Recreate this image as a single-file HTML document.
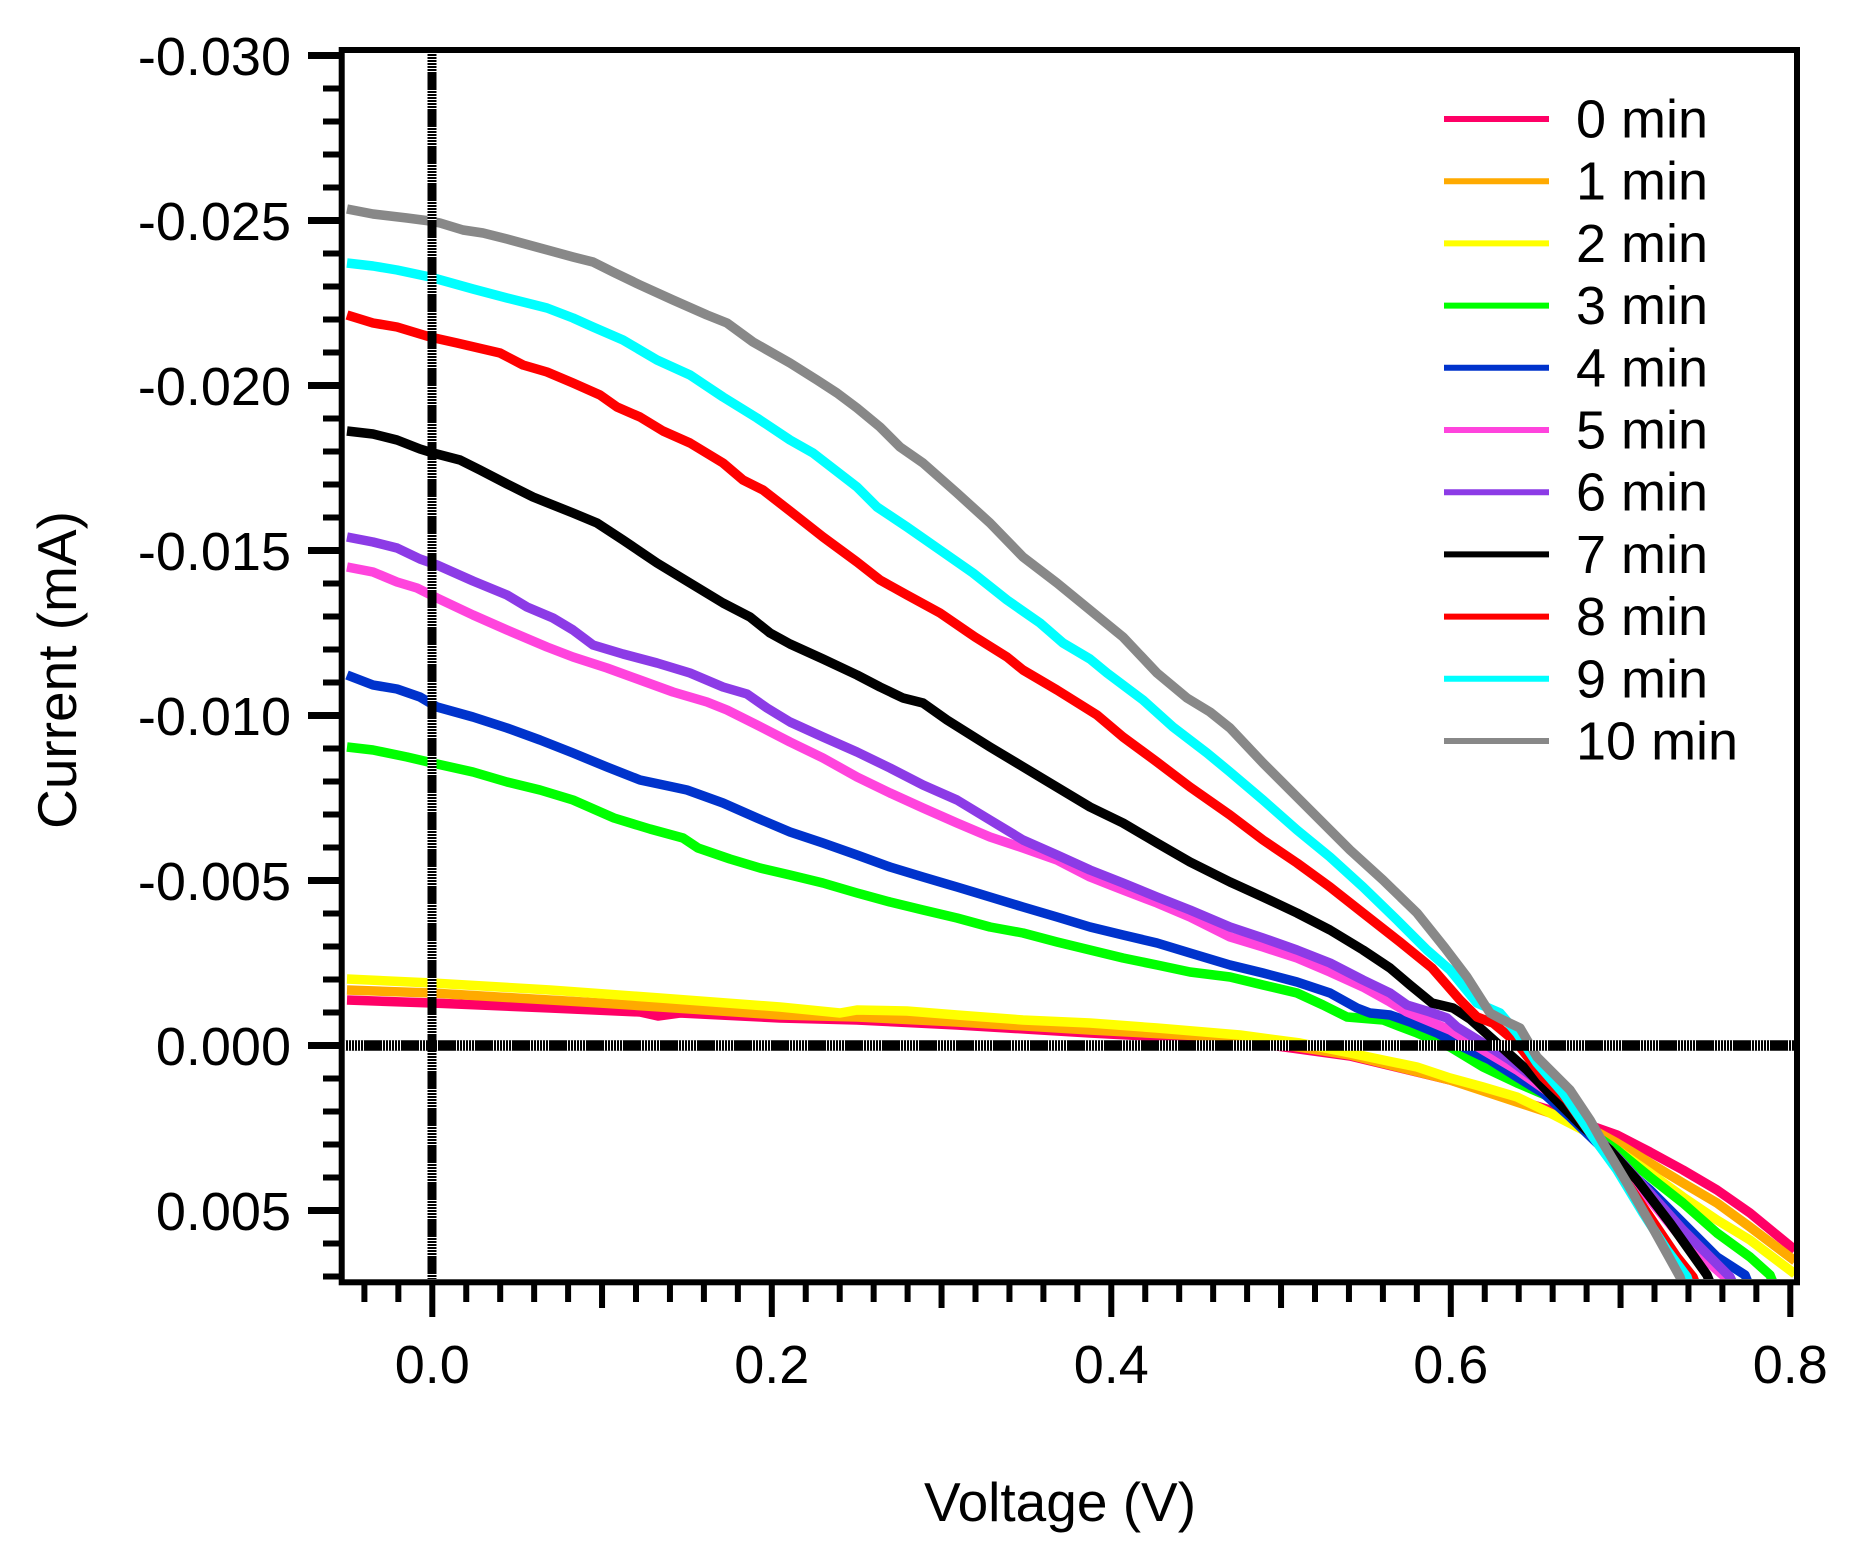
<!DOCTYPE html>
<html><head><meta charset="utf-8"><style>html,body{margin:0;padding:0;background:#fff}svg{display:block}text{font-family:"Liberation Sans",Arial,sans-serif;fill:#000}</style></head><body>
<svg xmlns="http://www.w3.org/2000/svg" width="1853" height="1549" viewBox="0 0 1853 1549">
<rect width="1853" height="1549" fill="#fff"/>
<defs><clipPath id="c"><rect x="345" y="53" width="1449" height="1226"/></clipPath></defs>
<g clip-path="url(#c)" fill="none" stroke-width="9.5" stroke-linejoin="round" stroke-linecap="butt">
<polyline stroke="#ff0066" points="347,1000 432,1003 550,1008 640,1012 658,1016 680,1013 780,1018 857,1020 957,1025 1090,1033 1240,1041 1350,1056 1450,1080 1550,1110 1583,1123 1617,1135 1650,1152 1683,1170 1717,1190 1750,1213 1795,1250"/>
<polyline stroke="#ffaa00" points="347,990 432,993 600,1003 780,1015 857,1017 957,1022 1090,1030 1240,1038 1350,1055 1450,1080 1550,1113 1597,1132 1617,1143 1650,1163 1683,1183 1717,1203 1750,1227 1795,1261"/>
<polyline stroke="#ffff00" points="347,979 432,983 550,990 660,998 780,1007 840,1013 857,1010 907,1011 957,1015 1023,1020 1090,1023 1157,1028 1240,1035 1300,1043 1350,1053 1383,1060 1417,1067 1450,1078 1483,1087 1517,1097 1550,1113 1583,1130 1617,1150 1650,1173 1683,1197 1717,1220 1750,1240 1795,1274"/>
<polyline stroke="#00ff00" points="347,747 373,750 407,757 437,764 473,772 507,782 540,790 573,800 614,818 650,829 683,838 698,848 730,859 760,868 790,875 823,883 857,893 890,902 923,910 957,918 990,927 1023,933 1057,942 1090,950 1123,958 1157,965 1190,972 1230,977 1263,985 1297,993 1323,1005 1347,1017 1383,1020 1417,1033 1450,1047 1483,1067 1517,1083 1550,1097 1583,1127 1617,1150 1650,1177 1683,1203 1717,1233 1750,1257 1770,1275 1776,1290"/>
<polyline stroke="#0033cc" points="347,675 373,685 397,689 420,697 437,707 473,717 507,728 540,740 573,753 607,767 640,780 673,787 687,790 723,803 757,818 790,832 823,843 857,855 890,867 923,877 957,887 990,897 1023,907 1057,917 1090,927 1123,935 1157,943 1190,953 1230,965 1263,973 1297,982 1330,993 1357,1008 1370,1013 1390,1015 1410,1022 1437,1033 1463,1047 1490,1060 1517,1077 1543,1093 1570,1117 1597,1143 1623,1167 1650,1190 1683,1223 1717,1257 1745,1275 1751,1290"/>
<polyline stroke="#ff44dd" points="347,567 373,572 397,582 417,588 437,598 473,615 507,630 547,647 573,657 607,668 640,680 673,692 707,702 727,710 757,725 790,742 823,758 857,777 890,793 923,808 957,823 990,837 1023,848 1057,860 1090,877 1123,890 1157,903 1190,917 1230,937 1263,947 1297,958 1330,972 1363,987 1390,1002 1407,1012 1450,1030 1483,1050 1517,1070 1550,1093 1583,1123 1617,1160 1650,1200 1683,1240 1725,1277 1731,1290"/>
<polyline stroke="#8c3be6" points="347,537 373,542 397,548 420,559 437,565 473,581 507,595 527,607 553,618 573,630 593,645 623,654 657,663 690,673 723,687 747,694 767,708 790,722 823,737 857,752 890,768 923,785 957,800 990,820 1023,840 1057,855 1090,870 1123,883 1157,897 1190,910 1230,927 1263,938 1297,950 1330,963 1363,980 1390,993 1407,1005 1430,1012 1447,1018 1457,1027 1483,1043 1510,1060 1537,1080 1563,1100 1587,1127 1617,1157 1650,1193 1683,1230 1730,1277 1736,1290"/>
<polyline stroke="#000000" points="347,431 373,434 397,440 420,449 433,453 460,460 480,470 507,484 533,497 573,513 597,523 623,540 657,563 690,583 723,603 750,617 770,633 790,644 823,659 857,675 880,687 903,698 923,703 947,720 990,747 1040,777 1090,807 1123,823 1157,843 1190,862 1230,882 1263,897 1297,913 1330,930 1363,950 1390,968 1410,985 1432,1003 1453,1008 1470,1019 1497,1043 1527,1070 1553,1097 1583,1127 1610,1150 1637,1180 1670,1223 1707,1275 1713,1290"/>
<polyline stroke="#ff0000" points="347,315 373,323 397,327 430,337 457,343 500,353 523,365 547,372 573,383 600,395 617,407 640,417 663,431 690,443 723,463 743,480 763,490 790,511 823,537 857,562 880,580 907,595 940,613 975,637 1007,657 1023,670 1057,690 1097,715 1123,737 1157,762 1190,787 1230,815 1263,840 1297,863 1330,887 1363,913 1400,942 1432,968 1460,1000 1477,1017 1493,1023 1517,1043 1543,1077 1567,1100 1593,1137 1623,1177 1650,1217 1677,1257 1693,1277 1698,1290"/>
<polyline stroke="#00ffff" points="347,263 373,266 397,270 430,277 473,289 507,298 547,308 573,318 593,327 623,340 657,360 690,375 723,397 757,418 790,440 813,453 857,487 877,507 907,527 940,550 973,573 1007,600 1040,623 1063,643 1090,659 1107,673 1143,700 1173,727 1207,753 1230,772 1263,800 1297,830 1330,857 1363,887 1397,920 1427,950 1450,970 1477,1003 1500,1013 1517,1033 1537,1063 1563,1093 1593,1137 1617,1170 1643,1213 1667,1250 1687,1277 1691,1290"/>
<polyline stroke="#888888" points="347,209 373,214 407,218 430,221 440,223 463,230 483,233 507,239 540,248 573,257 593,262 613,272 640,285 673,300 707,315 727,323 753,342 790,363 817,380 837,393 857,408 880,427 900,447 923,463 957,493 990,523 1023,557 1057,583 1090,610 1123,637 1157,673 1187,698 1210,712 1230,728 1263,763 1297,797 1330,830 1350,850 1383,880 1417,913 1445,948 1467,977 1490,1013 1503,1020 1520,1028 1537,1057 1557,1077 1570,1090 1590,1120 1603,1143 1627,1183 1650,1223 1680,1277 1684,1290"/>
</g>
<!-- zero lines -->
<g fill="none">
<line x1="345" y1="1045.5" x2="1794" y2="1045.5" stroke="#000" stroke-width="10.5"/>
<line x1="345" y1="1045.5" x2="1794" y2="1045.5" stroke="#fff" stroke-width="10.5" stroke-dasharray="1 2 1 2 1 2 1 2 1 2 1 2 1 18"/>
<line x1="432" y1="53" x2="432" y2="1279" stroke="#000" stroke-width="9"/>
<line x1="432" y1="53" x2="432" y2="1279" stroke="#fff" stroke-width="9" stroke-dasharray="1 2 1 2 1 2 1 2 1 2 1 2 1 18"/>
</g>
<!-- frame -->
<rect x="341.7" y="50" width="1455.3" height="1232.3" fill="none" stroke="#000" stroke-width="6"/>
<!-- y ticks -->
<path stroke="#000" stroke-width="7" fill="none" d="M308 55.5H342M308 220.5H342M308 385.5H342M308 550.5H342M308 715.5H342M308 880.5H342M308 1045.5H342M308 1210.5H342"/>
<path stroke="#000" stroke-width="6" fill="none" d="M323 88.5H342M323 121.5H342M323 154.5H342M323 187.5H342M323 253.5H342M323 286.5H342M323 319.5H342M323 352.5H342M323 418.5H342M323 451.5H342M323 484.5H342M323 517.5H342M323 583.5H342M323 616.5H342M323 649.5H342M323 682.5H342M323 748.5H342M323 781.5H342M323 814.5H342M323 847.5H342M323 913.5H342M323 946.5H342M323 979.5H342M323 1012.5H342M323 1078.5H342M323 1111.5H342M323 1144.5H342M323 1177.5H342M323 1243.5H342M323 1276.5H342"/>
<!-- x ticks -->
<path stroke="#000" stroke-width="6" fill="none" d="M432.3 1282V1317M771.8 1282V1317M1111.3 1282V1317M1450.8 1282V1317M1790.3 1282V1317"/>
<path stroke="#000" stroke-width="6" fill="none" d="M602.05 1282V1308M941.55 1282V1308M1281.05 1282V1308M1620.55 1282V1308"/>
<path stroke="#000" stroke-width="6" fill="none" d="M364.4 1282V1302M398.35 1282V1302M466.25 1282V1302M500.2 1282V1302M534.15 1282V1302M568.1 1282V1302M636 1282V1302M669.95 1282V1302M703.9 1282V1302M737.85 1282V1302M805.75 1282V1302M839.7 1282V1302M873.65 1282V1302M907.6 1282V1302M975.5 1282V1302M1009.45 1282V1302M1043.4 1282V1302M1077.35 1282V1302M1145.25 1282V1302M1179.2 1282V1302M1213.15 1282V1302M1247.1 1282V1302M1315 1282V1302M1348.95 1282V1302M1382.9 1282V1302M1416.85 1282V1302M1484.75 1282V1302M1518.7 1282V1302M1552.65 1282V1302M1586.6 1282V1302M1654.5 1282V1302M1688.45 1282V1302M1722.4 1282V1302M1756.35 1282V1302"/>
<!-- y labels -->
<g font-size="54" text-anchor="end">
<text x="291" y="75">-0.030</text>
<text x="291" y="240">-0.025</text>
<text x="291" y="405">-0.020</text>
<text x="291" y="570">-0.015</text>
<text x="291" y="735">-0.010</text>
<text x="291" y="900">-0.005</text>
<text x="291" y="1065">0.000</text>
<text x="291" y="1230">0.005</text>
</g>
<!-- x labels -->
<g font-size="54" text-anchor="middle">
<text x="432.3" y="1383">0.0</text>
<text x="771.8" y="1383">0.2</text>
<text x="1111.3" y="1383">0.4</text>
<text x="1450.8" y="1383">0.6</text>
<text x="1790.3" y="1383">0.8</text>
</g>
<!-- titles -->
<text x="1060" y="1521" font-size="55" text-anchor="middle">Voltage (V)</text>
<text transform="translate(76,670) rotate(-90)" font-size="55" text-anchor="middle">Current (mA)</text>
<!-- legend -->
<g stroke-width="6" fill="none">
<line x1="1444" x2="1549" y1="119" y2="119" stroke="#ff0066"/>
<line x1="1444" x2="1549" y1="181.2" y2="181.2" stroke="#ffaa00"/>
<line x1="1444" x2="1549" y1="243.4" y2="243.4" stroke="#ffff00"/>
<line x1="1444" x2="1549" y1="305.6" y2="305.6" stroke="#00ff00"/>
<line x1="1444" x2="1549" y1="367.8" y2="367.8" stroke="#0033cc"/>
<line x1="1444" x2="1549" y1="430" y2="430" stroke="#ff44dd"/>
<line x1="1444" x2="1549" y1="492.2" y2="492.2" stroke="#8c3be6"/>
<line x1="1444" x2="1549" y1="554.4" y2="554.4" stroke="#000000"/>
<line x1="1444" x2="1549" y1="616.6" y2="616.6" stroke="#ff0000"/>
<line x1="1444" x2="1549" y1="678.8" y2="678.8" stroke="#00ffff"/>
<line x1="1444" x2="1549" y1="741" y2="741" stroke="#888888"/>
</g>
<g font-size="54">
<text x="1576" y="137.5">0 min</text>
<text x="1576" y="199.7">1 min</text>
<text x="1576" y="261.9">2 min</text>
<text x="1576" y="324.1">3 min</text>
<text x="1576" y="386.3">4 min</text>
<text x="1576" y="448.5">5 min</text>
<text x="1576" y="510.7">6 min</text>
<text x="1576" y="572.9">7 min</text>
<text x="1576" y="635.1">8 min</text>
<text x="1576" y="697.3">9 min</text>
<text x="1576" y="759.5">10 min</text>
</g>
</svg>
</body></html>
